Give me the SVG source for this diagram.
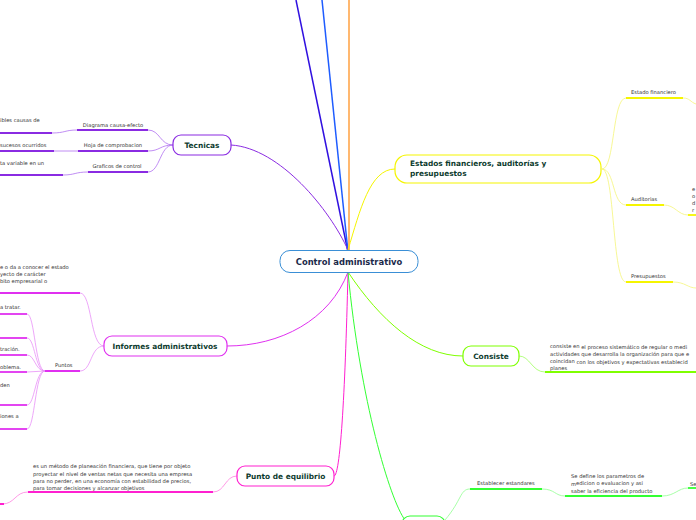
<svg xmlns="http://www.w3.org/2000/svg" width="696" height="520" viewBox="0 0 696 520">
<style>
.t{font-family:"DejaVu Sans","Liberation Sans",sans-serif;font-size:5.2px;fill:#333}
.n{font-family:"DejaVu Sans","Liberation Sans",sans-serif;font-size:7.4px;font-weight:bold;fill:#0d3b2e}
</style>
<rect width="696" height="520" fill="#fff"/>
<g id="connectors" fill="none">
<path d="M348,252 L296,0" stroke="#3010e0" stroke-width="1.5"/>
<path d="M348,252 L322,0" stroke="#1e5cff" stroke-width="1.5"/>
<path d="M349,252 L349,0" stroke="#ffa040" stroke-width="1.5"/>
<path d="M348,250 C330,210 280,148 231,145" stroke="#8a2be2" stroke-width="1"/>
<path d="M348,250 C360,210 370,169 395,169" stroke="#f5f500" stroke-width="1"/>
<path d="M348,272 C380,320 420,356 463,356" stroke="#7fff00" stroke-width="1"/>
<path d="M348,272 C330,320 280,346 227,346" stroke="#e030f0" stroke-width="1"/>
<path d="M348,272 C345,400 340,476 334,476" stroke="#ff20d0" stroke-width="1"/>
<path d="M348,272 C360,400 390,500 405,520" stroke="#33ff33" stroke-width="1"/>
<g stroke="#b070f0" stroke-width="0.8">
<path d="M173,145 C160,145 160,130 148,130"/><path d="M173,145 C160,145 160,151 148,151"/><path d="M173,145 C160,145 160,172 148,172"/>
<path d="M77,130 C65,130 65,133 52,133"/><path d="M78,151 L54,151"/><path d="M88,172 C75,172 75,175 63,175"/>
</g>
<g stroke="#8a2be2" stroke-width="1.8">
<path d="M77,130 H148"/><path d="M78,151 H148"/><path d="M88,172 H148"/>
<path d="M0,133 H52"/><path d="M0,151 H54"/><path d="M0,175 H63"/>
</g>
<g stroke="#f5f57a" stroke-width="0.8">
<path d="M602,169 C615,169 612,98 626,98"/><path d="M602,169 C615,169 612,205 626,205"/><path d="M602,169 C615,169 612,282 626,282"/>
<path d="M683,98 C690,98 690,102 696,104"/><path d="M664,205 C675,205 678,215 688,215"/><path d="M673,282 C685,282 688,288 696,288"/>
</g>
<g stroke="#f5f500" stroke-width="1.8">
<path d="M626,98 H683"/><path d="M626,205 H664"/><path d="M626,282 H673"/><path d="M688,215 H696"/>
</g>
<path d="M519,356 C530,356 532,372 545,372" stroke="#a0ff60" stroke-width="0.8"/>
<path d="M545,372 H696" stroke="#7fff00" stroke-width="1.8"/>
<g stroke="#e890f8" stroke-width="0.8">
<path d="M104,346 C90,346 92,293 80,293"/><path d="M104,346 C90,346 92,371 80,371"/>
<path d="M45,371 C35,371 35,314 27,314"/><path d="M45,371 C35,371 35,338 27,338"/><path d="M45,371 C35,371 35,355 27,355"/><path d="M45,371 L27,372"/><path d="M45,371 C35,371 35,405 27,405"/><path d="M45,371 C35,371 35,429 27,429"/>
</g>
<g stroke="#e030f0" stroke-width="1.8">
<path d="M0,293 H80"/><path d="M45,371 H80"/>
<path d="M0,314 H27"/><path d="M0,338 H27"/><path d="M0,355 H27"/><path d="M0,372 H27"/><path d="M0,405 H27"/><path d="M0,429 H27"/>
</g>
<path d="M237,476 C225,476 225,492 213,492" stroke="#ff80e0" stroke-width="0.8"/>
<path d="M28,492 C15,492 15,504 2,504" stroke="#ff80e0" stroke-width="0.8"/>
<path d="M28,492 H213 M0,504 H4" stroke="#ff20d0" stroke-width="1.8"/>
<g stroke="#90ff90" stroke-width="0.8">
<path d="M445,520 C462,500 460,489 470,489"/><path d="M542,489 C555,489 555,496 565,496"/><path d="M662,496 C675,496 678,488 688,488"/>
</g>
<g stroke="#33ff33" stroke-width="1.8"><path d="M470,489 H542"/><path d="M565,496 H662"/><path d="M688,488 H696"/></g>
</g>
<g id="n-center"><rect x="280" y="250.5" width="138" height="22" rx="10" fill="#fff" stroke="#3a8fd6" stroke-width="1"/><text x="349" y="264.5" text-anchor="middle" class="n" style="fill:#1b2a4a;font-size:8.4px">Control administrativo</text></g>
<g id="n-tecnicas"><rect x="173" y="135" width="58" height="20" rx="8" fill="#fff" stroke="#8a2be2" stroke-width="1.2"/><text x="202" y="148" text-anchor="middle" class="n">Tecnicas</text>
<text x="113" y="127" text-anchor="middle" class="t">Diagrama causa-efecto</text><text x="113" y="147" text-anchor="middle" class="t">Hoja de comprobacion</text><text x="117" y="168" text-anchor="middle" class="t">Graficos de control</text>
<text x="0" y="122" class="t">ibles causas de</text><text x="0" y="147" class="t">sucesos ocurridos</text><text x="0" y="165" class="t">ta variable en un</text></g>
<g id="n-estados"><rect x="395" y="155" width="206" height="28" rx="12" fill="#fff" stroke="#f5f500" stroke-width="1.2"/><text x="410" y="166" class="n">Estados financieros, auditorías y</text><text x="410" y="176" class="n">presupuestos</text>
<text x="631" y="94" class="t">Estado financiero</text><text x="631" y="201" class="t">Auditorias</text><text x="631" y="278" class="t">Presupuestos</text>
<text x="692" y="191" class="t">e</text><text x="692" y="198" class="t">o</text><text x="692" y="205" class="t">d</text><text x="692" y="212" class="t">r</text></g>
<g id="n-consiste"><rect x="463" y="346" width="56" height="20" rx="8" fill="#fff" stroke="#7fff00" stroke-width="1.2"/><text x="491" y="359" text-anchor="middle" class="n">Consiste</text>
<text x="550" y="348" class="t">consiste en <tspan dy="0.8">el proceso sistemático de regular o medi</tspan></text><text x="550" y="356" class="t">actividades que desarrolla la organización para que e</text><text x="550" y="363" class="t">coincidan <tspan dy="0.8">con los objetivos y expectativas establecid</tspan></text><text x="550" y="370" class="t">planes</text></g>
<g id="n-informes"><rect x="104" y="336" width="123" height="20" rx="8" fill="#fff" stroke="#e030f0" stroke-width="1.2"/><text x="165" y="349" text-anchor="middle" class="n">Informes administrativos</text>
<text x="0" y="269" class="t">e o da a conocer el estado</text><text x="0" y="276" class="t">yecto de carácter</text><text x="0" y="283" class="t">bito empresarial o</text>
<text x="55" y="367" class="t">Puntos</text>
<text x="0" y="309" class="t">a tratar.</text><text x="0" y="351" class="t">tración.</text><text x="0" y="369" class="t">oblema.</text><text x="0" y="387" class="t">den</text><text x="0" y="418" class="t">iones a</text></g>
<g id="n-punto"><rect x="237" y="466" width="97" height="20" rx="8" fill="#fff" stroke="#ff20d0" stroke-width="1.2"/><text x="285.5" y="479" text-anchor="middle" class="n">Punto de equilibrio</text>
<text x="33" y="468" class="t">es un método de planeación financiera, que tiene por objeto</text><text x="33" y="475.5" class="t">proyectar el nivel de ventas netas que necesita una empresa</text><text x="33" y="483" class="t">para no perder, en una economía con estabilidad de precios,</text><text x="33" y="490" class="t">para tomar decisiones y alcanzar objetivos</text></g>
<g id="n-bottom"><rect x="402" y="516" width="43" height="20" rx="8" fill="#fff" stroke="#33ff33" stroke-width="1.2"/>
<text x="477" y="485" class="t">Establecer estandares</text>
<text x="571" y="478" class="t">Se define los parametros de</text><text x="571" y="486" class="t">m<tspan dy="-0.8">edicion o evaluacion y asi</tspan></text><text x="571" y="493" class="t">saber la eficiencia del producto</text>
<text x="690" y="486" class="t">Se</text></g>
</svg>
